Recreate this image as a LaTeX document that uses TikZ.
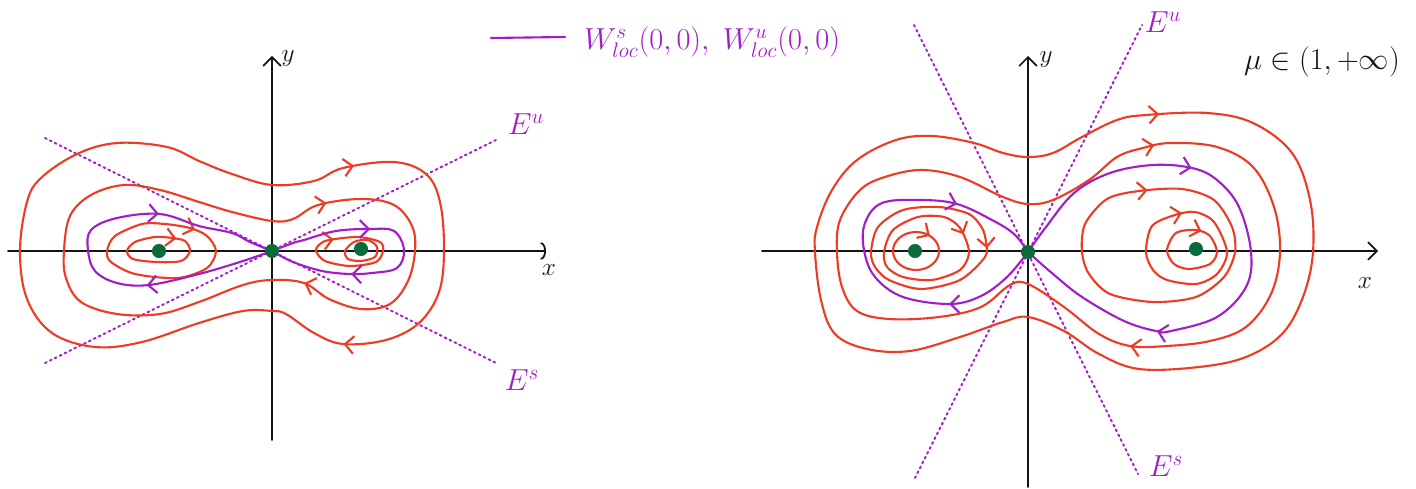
\documentclass[tikz,border=0pt]{standalone}
\usetikzlibrary{arrows.meta,decorations.markings}
\definecolor{ink}{HTML}{151515}
\definecolor{orbit}{HTML}{EE3B24}
\definecolor{manif}{HTML}{A11DC9}
\definecolor{fixpt}{HTML}{0B6B3A}

\begin{document}
\begin{tikzpicture}[x=0.02cm, y=-0.02cm, line cap=round, line join=round,
    axis/.style={ink, line width=1pt},
    orb/.style={orbit, line width=1.2pt},
    wloc/.style={manif, line width=1.2pt},
    eig/.style={manif, line width=1.1pt, dotted},
    eq/.style={circle, fill=fixpt, inner sep=0pt, minimum size=8pt},
    lab/.style={text=manif, font=\LARGE},
    axlab/.style={text=ink, font=\Large},
    flow/.style={postaction={decorate, decoration={markings,
      mark=at position #1 with {\arrow{Straight Barb[length=5pt, width=10pt]}}}}},
  ]
% --- Background ------------------------------------------------------------------
\fill[white] (0,0) rectangle (1416,489);
\useasboundingbox (0,0) rectangle (1416,489);

% --- Legend --------------------------------------------------------------------------
\coordinate (lg0) at (491,38);
\coordinate (lg1) at (565,37);
\draw[wloc] (lg0) -- (lg1);
\node[lab, anchor=west] (lgt) at (578,42) {$W^{s}_{loc}(0,0),\; W^{u}_{loc}(0,0)$};
\node[text=ink, font=\LARGE] (mu) at (1322,62) {$\mu\in(1,+\infty)$};

% --- Left: eigenlines and axes ----------------------------------------------------------
\coordinate (eua) at (45,363);  \coordinate (eub) at (498,139);
\coordinate (esa) at (45,138);  \coordinate (esb) at (498,364);
\draw[eig] (eua) -- (eub);
\draw[eig] (esa) -- (esb);
\node[lab] (eu1) at (526,124) {$E^{u}$};
\node[lab] (es1) at (522,380) {$E^{s}$};

\coordinate (xa1) at (8,251);   \coordinate (xb1) at (546,251);
\coordinate (ya1) at (272,440); \coordinate (yb1) at (272,56);
\draw[axis, -{Arc Barb[length=3pt, width=10pt]}] (xa1) -- (xb1);
\draw[axis, -{Straight Barb[length=5pt, width=10pt]}] (ya1) -- (yb1);
\node[axlab] (xl1) at (549,270) {$x$};
\node[axlab] (yl1) at (288,59) {$y$};

% --- Left: orbits (a closed plot starts at its second point) ----------------------------
\draw[orb, flow=0.01, flow=0.29] plot[smooth cycle, tension=0.6] coordinates {
  (314,181) (343,168) (394,162) (426,174) (440,202) (444,250) (439,292) (419,323)
  (386,340) (343,344) (314,333) (286,314) (272,311) (243,311) (199,323) (142,342)
  (95,347) (52,333) (27,299) (20,251) (27,202) (41,178) (77,154) (117,143)
  (167,147) (199,161) (232,174) (272,185)};
\draw[orb, flow=0.01, flow=0.325] plot[smooth cycle, tension=0.6] coordinates {
  (293,219) (318,205) (361,199) (394,205) (412,226) (415,251) (408,281) (390,304)
  (361,309) (329,299) (304,283) (272,280) (243,285) (199,302) (160,314) (117,314)
  (81,302) (66,278) (64,251) (70,216) (91,195) (124,185) (160,190) (199,202)
  (232,212) (272,221)};
\draw[orb, flow=0.02] plot[smooth cycle] coordinates {
  (165,224) (190,228) (207,236) (216,251) (207,268) (178,278) (135,274) (111,262)
  (107,251) (115,236) (142,224)};
\draw[orb, flow=0.03] plot[smooth cycle] coordinates {
  (155,237) (172,238) (185,241) (190,251) (181,261) (156,262) (133,259) (127,251)
  (135,242)};
\draw[orb, flow=0.03] plot[smooth cycle] coordinates {
  (320,244) (329,240) (358,237) (380,242) (383,251) (376,262) (350,266) (325,261)
  (316,251)};
\draw[orb] plot[smooth cycle] coordinates {
  (345,251) (354,242) (368,240) (377,247) (375,257) (361,261) (348,259)};

% local manifolds of (0,0)
\draw[wloc, flow=0.31, flow=0.715] plot[smooth, tension=0.6] coordinates {
  (272,251) (243,261) (199,274) (149,285) (117,283) (95,271) (88,250) (91,230)
  (117,218) (160,214) (199,226) (232,233) (250,242) (272,251)};
\draw[wloc, flow=0.34, flow=0.72] plot[smooth, tension=0.6] coordinates {
  (272,251) (293,243) (304,240) (336,231) (370,229) (394,231) (404,250) (397,268)
  (372,273) (350,274) (322,271) (293,262) (272,251)};

\node[eq] (fl1) at (159,251) {};
\node[eq] (o1) at (272,251) {};
\node[eq] (fr1) at (361,249) {};

% --- Right: eigenlines and axes ----------------------------------------------------------
\coordinate (euc) at (915,478);  \coordinate (eud) at (1142,25);
\coordinate (esc) at (914,25);   \coordinate (esd) at (1138,474);
\draw[eig] (euc) -- (eud);
\draw[eig] (esc) -- (esd);
\node[lab] (eu2) at (1163,22) {$E^{u}$};
\node[lab] (es2) at (1166,466) {$E^{s}$};

\coordinate (xa2) at (762,251);  \coordinate (xb2) at (1378,251);
\coordinate (ya2) at (1028,487); \coordinate (yb2) at (1028,56);
\draw[axis, -{Straight Barb[length=5pt, width=10pt]}] (xa2) -- (xb2);
\draw[axis, -{Straight Barb[length=5pt, width=10pt]}] (ya2) -- (yb2);
\node[axlab] (xl2) at (1365,283) {$x$};
\node[axlab] (yl2) at (1046,60) {$y$};

% --- Right: orbits -----------------------------------------------------------------------
\draw[orb, flow=0.01] plot[smooth cycle, tension=0.6] coordinates {
  (1117,120) (1146,115) (1207,113) (1253,123) (1292,153) (1310,200) (1313,252)
  (1303,297) (1282,334) (1246,357) (1199,367) (1139,369) (1099,354) (1064,331)
  (1028,317) (1003,322) (960,337) (910,351) (867,349) (835,334) (821,300) (815,252)
  (817,227) (832,190) (857,160) (896,140) (932,136) (974,143) (1003,153) (1028,157)
  (1053,153) (1082,137)};
\draw[orb, flow=0.01, flow=0.356] plot[smooth cycle, tension=0.6] coordinates {
  (1117,157) (1143,148) (1171,143) (1217,147) (1253,167) (1274,207) (1280,252)
  (1271,294) (1246,327) (1210,341) (1167,346) (1130,346) (1099,334) (1064,307)
  (1028,284) (1010,285) (981,307) (939,317) (889,319) (857,311) (842,287) (837,252)
  (840,220) (860,190) (885,177) (921,170) (960,177) (1003,197) (1028,204)
  (1053,200) (1089,180)};
\draw[orb, flow=0.02] plot[smooth cycle] coordinates {
  (982,228) (986,242) (985,257) (960,280) (921,289) (889,280) (875,267) (871,252)
  (878,227) (903,210) (939,207) (969,214)};
\draw[orb, flow=0.03] plot[smooth cycle] coordinates {
  (944,217) (960,228) (969,252) (960,270) (932,280) (903,277) (887,267) (884,252)
  (893,230) (918,217)};
\draw[orb, flow=0.86] (916,251) ellipse [x radius=23, y radius=19];
\draw[orb, flow=0.02] plot[smooth cycle] coordinates {
  (1107,199) (1139,191) (1182,189) (1214,200) (1232,227) (1235,252) (1224,277)
  (1196,297) (1153,302) (1110,294) (1089,274) (1082,252) (1085,224)};
\draw[orb, flow=0.03] plot[smooth cycle] coordinates {
  (1152,226) (1175,215) (1195,212) (1214,222) (1227,252) (1217,274) (1196,284)
  (1167,280) (1153,270) (1146,252)};
\draw[orb, flow=0.04] plot[smooth cycle] coordinates {
  (1176,233) (1196,230) (1210,236) (1217,252) (1210,264) (1189,269) (1174,264)
  (1167,250)};

% local manifolds of (0,0)
\draw[wloc, flow=0.23, flow=0.795] plot[smooth, tension=0.6] coordinates {
  (1028,252) (1007,277) (981,296) (950,304) (903,297) (875,277) (864,250) (865,223)
  (882,203) (921,200) (957,204) (992,220) (1014,234) (1028,252)};
\draw[wloc, flow=0.33, flow=0.746] plot[smooth, tension=0.6] coordinates {
  (1028,252) (1046,227) (1074,193) (1110,173) (1153,165) (1192,168) (1217,180)
  (1239,207) (1251,252) (1246,287) (1217,317) (1171,331) (1156,331) (1124,321)
  (1082,297) (1053,274) (1028,252)};

\node[eq] (fl2) at (915,251) {};
\node[eq] (o2) at (1028,252) {};
\node[eq] (fr2) at (1196,249) {};
\end{tikzpicture}
\end{document}
